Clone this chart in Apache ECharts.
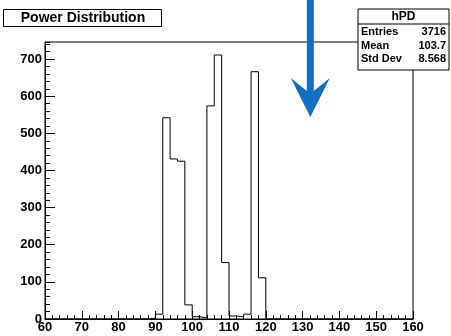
<!DOCTYPE html>
<html>
<head>
    <meta charset="utf-8"/>
    <script src="https://cdn.jsdelivr.net/npm/echarts@6/dist/echarts.min.js"></script>
    <style>
        html, body { margin: 0; padding: 0; background: #fff; }
    </style>
</head>
<body>
<div id="main" style="width: 451px; height: 336px;"></div>
<script type="text/javascript">

    // histogram hPD, 2-unit bins starting at 88
    var firstEdge = 88;
    var binWidth = 2;
    var counts = [2, 13, 542, 431, 425, 38, 6, 3, 574, 711, 152, 8, 6, 13, 666, 111];

    var xRange = [60, 160];
    var yMax = 746;

    var statLabels = ['Entries', 'Mean', 'Std Dev'];
    var statValues = ['3716', '103.7', '8.568'];

    // arrow annotation (data coords of tip)
    var arrowX = 132.1;
    var arrowTipY = 544;

    var font = '"Liberation Sans", Arial, sans-serif';

    // outline points for step line
    var pts = [[xRange[0], 0], [firstEdge, 0]];
    for (var i = 0; i < counts.length; i++) {
        pts.push([firstEdge + i * binWidth, counts[i]]);
    }
    var lastEdge = firstEdge + counts.length * binWidth;
    pts.push([lastEdge, 0]);
    pts.push([xRange[1], 0]);

    var myChart = echarts.init(document.getElementById('main'));

    myChart.setOption({
        backgroundColor: '#fff',
        animation: false,
        grid: {
            left: 45, right: 38, top: 42, bottom: 17,
            show: true, borderColor: '#000', borderWidth: 1
        },
        xAxis: {
            type: 'value',
            min: xRange[0], max: xRange[1], interval: 10,
            axisLine: {lineStyle: {color: '#000', width: 1}},
            axisTick: {inside: true, length: 8, lineStyle: {color: '#000'}},
            minorTick: {show: true, splitNumber: 5, length: 4, lineStyle: {color: '#000'}},
            splitLine: {show: false},
            axisLabel: {color: '#000', fontFamily: font, fontWeight: 'bold', fontSize: 13, margin: 2}
        },
        yAxis: [{
            type: 'value',
            min: 0, max: yMax, interval: 100,
            axisLine: {show: true, lineStyle: {color: '#000', width: 1}},
            axisTick: {show: true, inside: true, length: 10, lineStyle: {color: '#000'}},
            splitLine: {show: false},
            axisLabel: {color: '#000', fontFamily: font, fontWeight: 'bold', fontSize: 13,
                margin: 3, showMaxLabel: false,
                formatter: function (v) { return v % 100 === 0 ? String(v) : ''; }}
        }, {
            type: 'value',
            position: 'left',
            min: 0, max: yMax, interval: 20,
            axisLine: {show: false},
            axisTick: {show: true, inside: true, length: 5, lineStyle: {color: '#000'}},
            splitLine: {show: false},
            axisLabel: {show: false}
        }],
        series: [{
            type: 'line',
            step: 'end',
            data: pts,
            showSymbol: false,
            lineStyle: {color: '#000', width: 1},
            z: 3
        }]
    });

    // annotation pieces
    var tip = myChart.convertToPixel({gridIndex: 0}, [arrowX, arrowTipY]);
    var ax = tip[0], ay = tip[1];
    var arrowPts = [
        [ax - 3.5, 0], [ax + 3.5, 0], [ax + 3.5, ay - 26],
        [ax + 19.5, ay - 39], [ax, ay],
        [ax - 19.5, ay - 39], [ax - 3.5, ay - 26]
    ];

    var statChildren = [{
        type: 'rect', shape: {x: 358, y: 9, width: 91, height: 61},
        style: {fill: '#fff', stroke: '#000', lineWidth: 1}
    }, {
        type: 'line', shape: {x1: 358, y1: 24, x2: 449, y2: 24},
        style: {stroke: '#000', lineWidth: 1}
    }, {
        type: 'text', x: 403.5, y: 17,
        style: {text: 'hPD', font: 'bold 12px ' + font, fill: '#000', align: 'center', verticalAlign: 'middle'}
    }];
    for (var k = 0; k < statLabels.length; k++) {
        statChildren.push({
            type: 'text', x: 361, y: 32 + k * 13.5,
            style: {text: statLabels[k], font: 'bold 11px ' + font, fill: '#000', verticalAlign: 'middle'}
        });
        statChildren.push({
            type: 'text', x: 446, y: 32 + k * 13.5,
            style: {text: statValues[k], font: 'bold 11px ' + font, fill: '#000', align: 'right', verticalAlign: 'middle'}
        });
    }

    myChart.setOption({
        graphic: [{
            type: 'group', z: 100,
            children: [{
                type: 'rect', shape: {x: 3.5, y: 9.5, width: 158, height: 17},
                style: {fill: '#fff', stroke: '#000', lineWidth: 1}
            }, {
                type: 'text', x: 83, y: 18.5,
                style: {text: 'Power Distribution', font: 'bold 14px ' + font, fill: '#000',
                    align: 'center', verticalAlign: 'middle'}
            }]
        }, {
            type: 'group', z: 100,
            children: statChildren
        }, {
            type: 'polygon', z: 110,
            shape: {points: arrowPts},
            style: {fill: '#0f6fc3'}
        }]
    });
</script>
</body>
</html>
